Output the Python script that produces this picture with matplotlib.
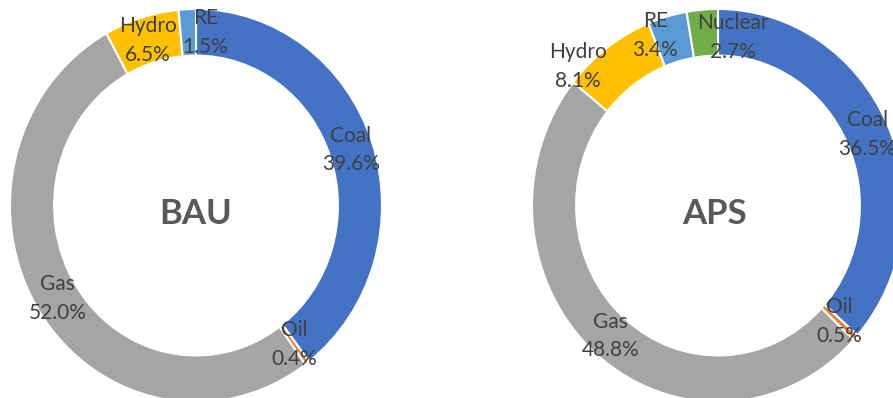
import matplotlib
matplotlib.use("Agg")
import matplotlib.pyplot as plt
import numpy as np

plt.rcParams['font.family'] = ['Lato', 'DejaVu Sans']

# generation mix, clockwise from 12 o'clock
bau_labels = ['Coal', 'Oil', 'Gas', 'Hydro', 'RE']
bau_share = [39.6, 0.4, 52.0, 6.5, 1.5]

aps_labels = ['Coal', 'Oil', 'Gas', 'Hydro', 'RE', 'Nuclear']
aps_share = [36.5, 0.5, 48.8, 8.1, 3.4, 2.7]

fuel_colors = {'Coal': '#4472C4', 'Oil': '#ED7D31', 'Gas': '#A5A5A5',
               'Hydro': '#FFC000', 'RE': '#5B9BD5', 'Nuclear': '#70AD47'}

# label nudges in pixels so neighbouring labels don't collide
bau_nudge = {'RE': (17, 0)}
aps_nudge = {'Hydro': (-43, 0), 'RE': (-18, 4), 'Nuclear': (29, -4)}

W, H = 893, 398
fig = plt.figure(figsize=(W / 100, H / 100), dpi=100)


def donut(cx, cy, title, labels, shares, nudge, title_dx=0):
    # cx, cy: centre in pixels from top-left; ring is slightly taller than wide
    rx, ry = 186, 196.5
    ax = fig.add_axes([(cx - rx) / W, (H - cy - ry) / H, 2 * rx / W, 2 * ry / H])
    wedges, _ = ax.pie(shares, colors=[fuel_colors[l] for l in labels],
                       startangle=90, counterclock=False, radius=1,
                       wedgeprops=dict(width=0.237, edgecolor='white', linewidth=1.5))
    ax.set_aspect('auto')
    ax.set_xlim(-1, 1)
    ax.set_ylim(-1, 1)
    ax.axis('off')
    for w, lab, val in zip(wedges, labels, shares):
        ang = np.deg2rad((w.theta1 + w.theta2) / 2)
        r = 0.88
        dx, dy = nudge.get(lab, (0, 0))
        ax.annotate('{}\n{:.1f}%'.format(lab, val), (r * np.cos(ang), r * np.sin(ang)),
                    xytext=(dx, dy), textcoords='offset pixels',
                    ha='center', va='center', fontsize=15, color='#404040',
                    linespacing=1.55, annotation_clip=False)
    ax.annotate(title, (0, 0), xytext=(title_dx, -8), textcoords='offset pixels',
                ha='center', va='center', fontsize=25, fontweight='bold', color='#595959')


donut(196, 205.5, 'BAU', bau_labels, bau_share, bau_nudge)
donut(718, 205.5, 'APS', aps_labels, aps_share, aps_nudge, title_dx=-4)

fig.savefig('out.png', dpi=100)
